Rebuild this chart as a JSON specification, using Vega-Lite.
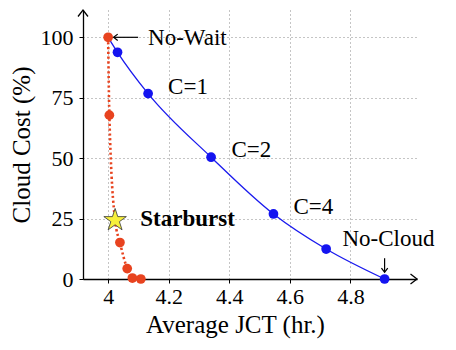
{
  "$schema": "https://vega.github.io/schema/vega-lite/v6.json",
  "autosize": "none",
  "width": 334,
  "height": 269,
  "padding": {"left": 83, "top": 10, "right": 39, "bottom": 71},
  "background": "white",
  "config": {
    "view": {"stroke": null},
    "font": "Liberation Serif",
    "text": {"font": "Liberation Serif"},
    "axis": {
      "labelFont": "Liberation Serif",
      "titleFont": "Liberation Serif",
      "labelFontSize": 22,
      "titleFontSize": 25,
      "titleFontWeight": "normal",
      "labelColor": "black",
      "titleColor": "black",
      "domainColor": "black",
      "domainWidth": 1.3,
      "tickColor": "black",
      "tickSize": 4,
      "gridColor": "#8a8a8a",
      "gridDash": [1, 3]
    }
  },
  "data": {"values": [
      {"series": "blue", "x": 4.0, "y": 100, "kind": "start"},
      {"series": "blue", "x": 4.031, "y": 93.8, "kind": "dot"},
      {"series": "blue", "x": 4.132, "y": 76.7, "kind": "dot"},
      {"series": "blue", "x": 4.34, "y": 50.4, "kind": "dot"},
      {"series": "blue", "x": 4.546, "y": 26.9, "kind": "dot"},
      {"series": "blue", "x": 4.72, "y": 12.4, "kind": "dot"},
      {"series": "blue", "x": 4.913, "y": 0, "kind": "dot"},
      {"series": "red", "x": 4.0, "y": 100, "kind": "dot"},
      {"series": "red", "x": 4.004, "y": 67.8, "kind": "dot"},
      {"series": "red", "x": 4.023, "y": 24.3, "kind": "star"},
      {"series": "red", "x": 4.039, "y": 15.1, "kind": "dot"},
      {"series": "red", "x": 4.063, "y": 4.3, "kind": "dot"},
      {"series": "red", "x": 4.08, "y": 0.4, "kind": "dot"},
      {"series": "red", "x": 4.108, "y": 0, "kind": "dot"},
      {"series": "label", "x": 4.132, "y": 99.6, "kind": "normal", "text": "No-Wait"},
      {"series": "label", "x": 4.198, "y": 79.4, "kind": "normal", "text": "C=1"},
      {"series": "label", "x": 4.407, "y": 53.3, "kind": "normal", "text": "C=2"},
      {"series": "label", "x": 4.612, "y": 29.7, "kind": "normal", "text": "C=4"},
      {"series": "label", "x": 4.774, "y": 16.5, "kind": "normal", "text": "No-Cloud"},
      {"series": "label", "x": 4.106, "y": 24.7, "kind": "bold", "text": "Starburst"},
      {"series": "arrow", "x": 4.099, "x2": 4.018, "y": 100, "y2": 100, "kind": "shaft"},
      {"series": "arrow", "x": 4.913, "x2": 4.913, "y": 8.6, "y2": 2.8, "kind": "shaft"},
      {"series": "head", "x": 4.018, "y": 100, "kind": "note", "dir": "left"},
      {"series": "head", "x": 4.913, "y": 2.8, "kind": "note", "dir": "down"},
      {"series": "head", "x": 5.02, "y": 0, "kind": "axis", "dir": "right"},
      {"series": "head", "x": 3.917, "y": 111.3, "kind": "axis", "dir": "up"}
  ]},
  "encoding": {
    "x": {
      "field": "x", "type": "quantitative",
      "scale": {"domain": [3.917, 5.02], "nice": false, "zero": false},
      "axis": {
        "title": "Average JCT (hr.)",
        "titleFont": "Liberation Serif",
        "labelFont": "Liberation Serif",
        "values": [4, 4.2, 4.4, 4.6, 4.8],
        "format": "~g",
        "labelPadding": 3,
        "titlePadding": 5,
        "titleX": 152,
        "grid": true
      }
    },
    "y": {
      "field": "y", "type": "quantitative",
      "scale": {"domain": [0, 111.3], "nice": false},
      "axis": {
        "title": "Cloud Cost (%)",
        "titleFont": "Liberation Serif",
        "labelFont": "Liberation Serif",
        "values": [0, 25, 50, 75, 100],
        "labelPadding": 6,
        "titlePadding": 6,
        "grid": true
      }
    }
  },
  "layer": [
    {
      "transform": [{"filter": "datum.series === 'blue'"}],
      "mark": {"type": "line", "color": "#1a1aee", "strokeWidth": 1.3, "interpolate": "monotone"}
    },
    {
      "transform": [{"filter": "datum.series === 'red'"}],
      "mark": {"type": "line", "color": "#e8431f", "strokeWidth": 2.6, "strokeDash": [2.2, 2.6], "interpolate": "monotone"}
    },
    {
      "transform": [{"filter": "datum.series === 'blue' && datum.kind === 'dot'"}],
      "mark": {"type": "point", "shape": "circle", "filled": true, "color": "#1414f0", "size": 95, "opacity": 1}
    },
    {
      "transform": [{"filter": "datum.series === 'red' && datum.kind === 'dot'"}],
      "mark": {"type": "point", "shape": "circle", "filled": true, "color": "#e8431f", "size": 95, "opacity": 1}
    },
    {
      "transform": [{"filter": "datum.kind === 'star'"}],
      "mark": {"type": "point", "shape": "M0,-1L0.2245,-0.309L0.9511,-0.309L0.3633,0.118L0.5878,0.809L0,0.382L-0.5878,0.809L-0.3633,0.118L-0.9511,-0.309L-0.2245,-0.309Z", "filled": true, "fill": "#f7ef3c", "stroke": "#333333", "strokeWidth": 0.8, "size": 560, "opacity": 1}
    },
    {
      "transform": [{"filter": "datum.kind === 'normal'"}],
      "mark": {"type": "text", "align": "left", "baseline": "middle", "font": "Liberation Serif", "fontSize": 23, "color": "black"},
      "encoding": {"text": {"field": "text", "type": "nominal"}}
    },
    {
      "transform": [{"filter": "datum.kind === 'bold'"}],
      "mark": {"type": "text", "align": "left", "baseline": "middle", "font": "Liberation Serif", "fontSize": 23, "fontWeight": "bold", "color": "black"},
      "encoding": {"text": {"field": "text", "type": "nominal"}}
    },
    {
      "transform": [{"filter": "datum.kind === 'shaft'"}],
      "mark": {"type": "rule", "color": "black", "strokeWidth": 1.2},
      "encoding": {
        "x2": {"field": "x2"},
        "y2": {"field": "y2"}
      }
    },
    {
      "transform": [{"filter": "datum.kind === 'note'"}],
      "mark": {"type": "point", "filled": false, "fill": "transparent", "stroke": "black", "strokeWidth": 1.2, "size": 40, "opacity": 1, "clip": false},
      "encoding": {
        "shape": {
          "field": "dir", "type": "nominal", "legend": null,
          "scale": {"domain": ["up", "right", "left", "down"], "range": ["M-1,1.3L0,0L1,1.3", "M-1.3,-1L0,0L-1.3,1", "M1.3,-1L0,0L1.3,1", "M-1,-1.3L0,0L1,-1.3"]}
        }
      }
    },
    {
      "transform": [{"filter": "datum.kind === 'axis'"}],
      "mark": {"type": "point", "filled": false, "fill": "transparent", "stroke": "black", "strokeWidth": 1.3, "size": 100, "opacity": 1, "clip": false},
      "encoding": {
        "shape": {
          "field": "dir", "type": "nominal", "legend": null,
          "scale": {"domain": ["up", "right", "left", "down"], "range": ["M-1,1.3L0,0L1,1.3", "M-1.3,-1L0,0L-1.3,1", "M1.3,-1L0,0L1.3,1", "M-1,-1.3L0,0L1,-1.3"]}
        }
      }
    }
  ]
}
